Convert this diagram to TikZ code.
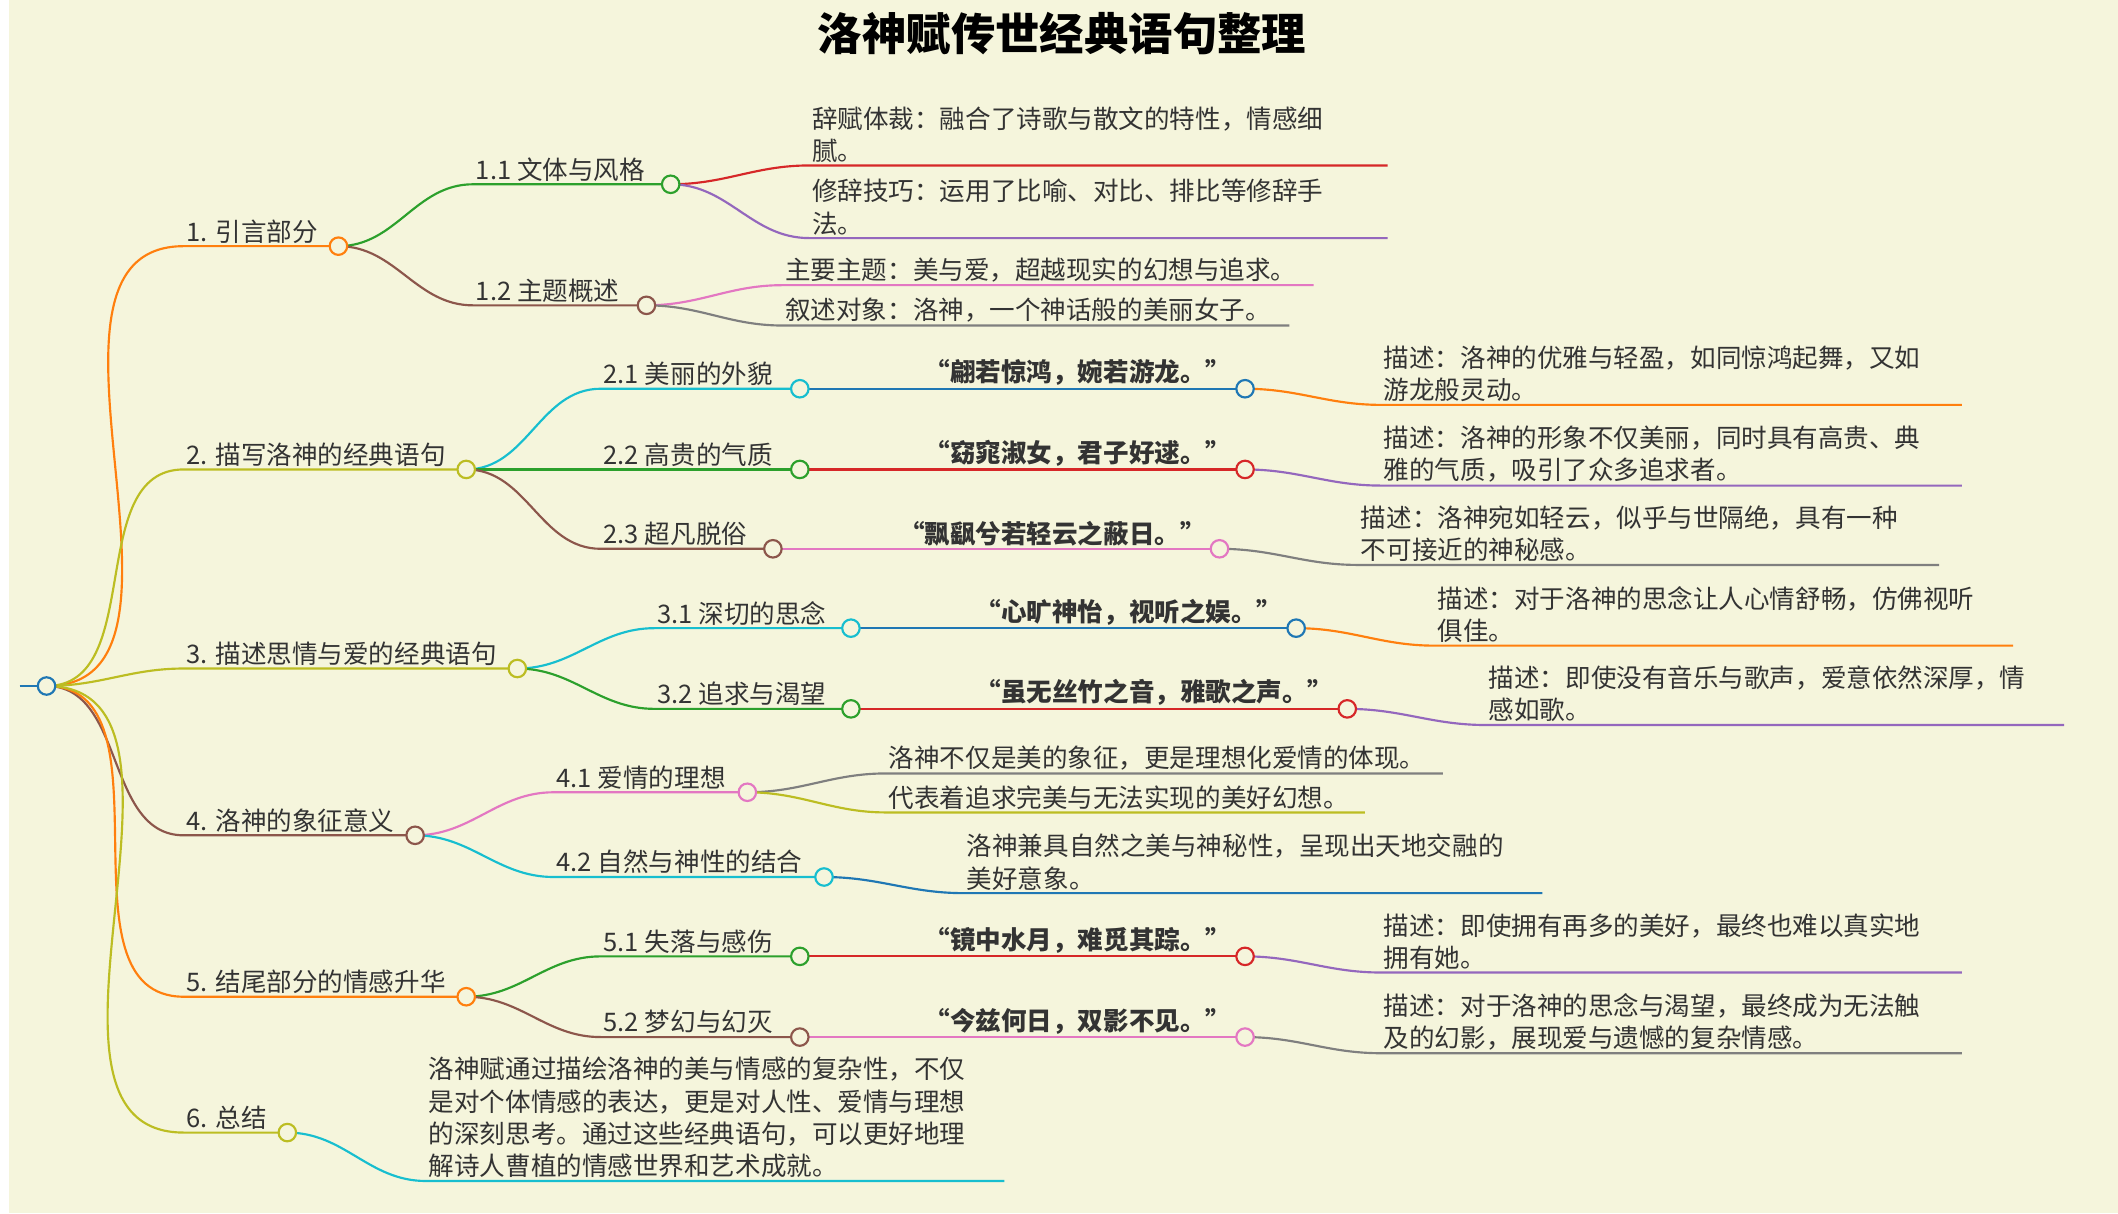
\documentclass[tikz,border=0pt]{standalone}
\usepackage{fontspec}
\setmainfont{Noto Sans CJK SC}
\usetikzlibrary{positioning}
\definecolor{bg}{HTML}{F5F5DC}
\definecolor{txt}{HTML}{333333}
\definecolor{tOrange}{HTML}{FF7F0E}
\definecolor{tGreen}{HTML}{2CA02C}
\definecolor{tRed}{HTML}{D62728}
\definecolor{tPurple}{HTML}{9467BD}
\definecolor{tBrown}{HTML}{8C564B}
\definecolor{tPink}{HTML}{E377C2}
\definecolor{tGray}{HTML}{7F7F7F}
\definecolor{tOlive}{HTML}{BCBD22}
\definecolor{tCyan}{HTML}{17BECF}
\definecolor{tBlue}{HTML}{1F77B4}
\begin{document}
\begin{tikzpicture}[x=1pt, y=-1pt,
        lbl/.style={anchor=south west, inner sep=2pt, align=left, text=txt, font=\fontsize{19}{24}\selectfont},
        quote/.style={anchor=south east, inner sep=2pt, text=txt, font=\fontsize{19}{24}\selectfont\bfseries},
        dot/.style={circle, draw=#1, fill=bg, line width=1.6pt, minimum size=13pt, inner sep=0pt},
        link/.style={draw=#1, line width=1.6pt},
        ]

        \fill[bg] (0,0) rectangle (1568,902);
        \node[font=\fontsize{33}{40}\selectfont\bfseries] (title) at (783,25) {洛神赋传世经典语句整理};

        % 根
        \coordinate (r0) at (8,510);
        \coordinate (r) at (28,510);
        \draw[link=tBlue] (r0) -- (r);

        % 一级
        \coordinate (s1) at (130,183); \coordinate (c1) at (245,183);
        \coordinate (s2) at (130,349); \coordinate (c2) at (340,349);
        \coordinate (s3) at (130,497); \coordinate (c3) at (378,497);
        \coordinate (s4) at (130,621); \coordinate (c4) at (302,621);
        \coordinate (s5) at (130,741); \coordinate (c5) at (340,741);
        \coordinate (s6) at (130,842); \coordinate (c6) at (207,842);
        \draw[link=tOrange] (r) to[out=0, in=180] (s1) -- (c1);
        \draw[link=tOlive] (r) to[out=0, in=180] (s2) -- (c2);
        \draw[link=tOlive] (r) to[out=0, in=180] (s3) -- (c3);
        \draw[link=tBrown] (r) to[out=0, in=180] (s4) -- (c4);
        \draw[link=tOrange] (r) to[out=0, in=180] (s5) -- (c5);
        \draw[link=tOlive] (r) to[out=0, in=180] (s6) -- (c6);
        \node[lbl] (n1) at (s1) {1. 引言部分};
        \node[lbl] (n2) at (s2) {2. 描写洛神的经典语句};
        \node[lbl] (n3) at (s3) {3. 描述思情与爱的经典语句};
        \node[lbl] (n4) at (s4) {4. 洛神的象征意义};
        \node[lbl] (n5) at (s5) {5. 结尾部分的情感升华};
        \node[lbl] (n6) at (s6) {6. 总结};

        % 1
        \coordinate (s11) at (345,137); \coordinate (c11) at (492,137);
        \coordinate (s12) at (345,227); \coordinate (c12) at (474,227);
        \draw[link=tGreen] (c1) to[out=0, in=180] (s11) -- (c11);
        \draw[link=tBrown] (c1) to[out=0, in=180] (s12) -- (c12);
        \node[lbl] (n11) at (s11) {1.1 文体与风格};
        \node[lbl] (n12) at (s12) {1.2 主题概述};
        \coordinate (s111) at (595,123); \coordinate (e111) at (1025,123);
        \coordinate (s112) at (595,177); \coordinate (e112) at (1025,177);
        \coordinate (s121) at (575,212); \coordinate (e121) at (970,212);
        \coordinate (s122) at (575,242); \coordinate (e122) at (952,242);
        \draw[link=tRed] (c11) to[out=0, in=180] (s111) -- (e111);
        \draw[link=tPurple] (c11) to[out=0, in=180] (s112) -- (e112);
        \draw[link=tPink] (c12) to[out=0, in=180] (s121) -- (e121);
        \draw[link=tGray] (c12) to[out=0, in=180] (s122) -- (e122);
        \node[lbl] (n111) at (s111) {辞赋体裁：融合了诗歌与散文的特性，情感细\\腻。};
        \node[lbl] (n112) at (s112) {修辞技巧：运用了比喻、对比、排比等修辞手\\法。};
        \node[lbl] (n121) at (s121) {主要主题：美与爱，超越现实的幻想与追求。};
        \node[lbl] (n122) at (s122) {叙述对象：洛神，一个神话般的美丽女子。};

        % 2
        \coordinate (s21) at (440,289); \coordinate (c21) at (588,289); \coordinate (q21) at (919,289);
        \coordinate (s22) at (440,349); \coordinate (c22) at (588,349); \coordinate (q22) at (919,349);
        \coordinate (s23) at (440,408); \coordinate (c23) at (568,408); \coordinate (q23) at (900,408);
        \draw[link=tCyan] (c2) to[out=0, in=180] (s21) -- (c21);
        \draw[link=tGreen] (c2) to[out=0, in=180] (s22) -- (c22);
        \draw[link=tBrown] (c2) to[out=0, in=180] (s23) -- (c23);
        \draw[link=tBlue] (c21) -- (q21);
        \draw[link=tRed] (c22) -- (q22);
        \draw[link=tPink] (c23) -- (q23);
        \node[lbl] (n21) at (s21) {2.1 美丽的外貌};
        \node[lbl] (n22) at (s22) {2.2 高贵的气质};
        \node[lbl] (n23) at (s23) {2.3 超凡脱俗};
        \node[quote] (m21) at ([xshift=-8pt]q21) {“翩若惊鸿，婉若游龙。”};
        \node[quote] (m22) at ([xshift=-8pt]q22) {“窈窕淑女，君子好逑。”};
        \node[quote] (m23) at ([xshift=-8pt]q23) {“飘飖兮若轻云之蔽日。”};
        \coordinate (s211) at (1020,301); \coordinate (e211) at (1452,301);
        \coordinate (s221) at (1020,361); \coordinate (e221) at (1452,361);
        \coordinate (s231) at (1003,420); \coordinate (e231) at (1435,420);
        \draw[link=tOrange] (q21) to[out=0, in=180] (s211) -- (e211);
        \draw[link=tPurple] (q22) to[out=0, in=180] (s221) -- (e221);
        \draw[link=tGray] (q23) to[out=0, in=180] (s231) -- (e231);
        \node[lbl] (n211) at (s211) {描述：洛神的优雅与轻盈，如同惊鸿起舞，又如\\游龙般灵动。};
        \node[lbl] (n221) at (s221) {描述：洛神的形象不仅美丽，同时具有高贵、典\\雅的气质，吸引了众多追求者。};
        \node[lbl] (n231) at (s231) {描述：洛神宛如轻云，似乎与世隔绝，具有一种\\不可接近的神秘感。};

        % 3
        \coordinate (s31) at (480,467); \coordinate (c31) at (626,467); \coordinate (q31) at (957,467);
        \coordinate (s32) at (480,527); \coordinate (c32) at (626,527); \coordinate (q32) at (995,527);
        \draw[link=tCyan] (c3) to[out=0, in=180] (s31) -- (c31);
        \draw[link=tGreen] (c3) to[out=0, in=180] (s32) -- (c32);
        \draw[link=tBlue] (c31) -- (q31);
        \draw[link=tRed] (c32) -- (q32);
        \node[lbl] (n31) at (s31) {3.1 深切的思念};
        \node[lbl] (n32) at (s32) {3.2 追求与渴望};
        \node[quote] (m31) at ([xshift=-8pt]q31) {“心旷神怡，视听之娱。”};
        \node[quote] (m32) at ([xshift=-8pt]q32) {“虽无丝竹之音，雅歌之声。”};
        \coordinate (s311) at (1060,480); \coordinate (e311) at (1490,480);
        \coordinate (s321) at (1098,539); \coordinate (e321) at (1528,539);
        \draw[link=tOrange] (q31) to[out=0, in=180] (s311) -- (e311);
        \draw[link=tPurple] (q32) to[out=0, in=180] (s321) -- (e321);
        \node[lbl] (n311) at (s311) {描述：对于洛神的思念让人心情舒畅，仿佛视听\\俱佳。};
        \node[lbl] (n321) at (s321) {描述：即使没有音乐与歌声，爱意依然深厚，情\\感如歌。};

        % 4
        \coordinate (s41) at (405,589); \coordinate (c41) at (549,589);
        \coordinate (s42) at (405,652); \coordinate (c42) at (606,652);
        \draw[link=tPink] (c4) to[out=0, in=180] (s41) -- (c41);
        \draw[link=tCyan] (c4) to[out=0, in=180] (s42) -- (c42);
        \node[lbl] (n41) at (s41) {4.1 爱情的理想};
        \node[lbl] (n42) at (s42) {4.2 自然与神性的结合};
        \coordinate (s411) at (652,575); \coordinate (e411) at (1066,575);
        \coordinate (s412) at (652,604); \coordinate (e412) at (1008,604);
        \coordinate (s421) at (710,664); \coordinate (e421) at (1140,664);
        \draw[link=tGray] (c41) to[out=0, in=180] (s411) -- (e411);
        \draw[link=tOlive] (c41) to[out=0, in=180] (s412) -- (e412);
        \draw[link=tBlue] (c42) to[out=0, in=180] (s421) -- (e421);
        \node[lbl] (n411) at (s411) {洛神不仅是美的象征，更是理想化爱情的体现。};
        \node[lbl] (n412) at (s412) {代表着追求完美与无法实现的美好幻想。};
        \node[lbl] (n421) at (s421) {洛神兼具自然之美与神秘性，呈现出天地交融的\\美好意象。};

        % 5
        \coordinate (s51) at (440,711); \coordinate (c51) at (588,711); \coordinate (q51) at (919,711);
        \coordinate (s52) at (440,771); \coordinate (c52) at (588,771); \coordinate (q52) at (919,771);
        \draw[link=tGreen] (c5) to[out=0, in=180] (s51) -- (c51);
        \draw[link=tBrown] (c5) to[out=0, in=180] (s52) -- (c52);
        \draw[link=tRed] (c51) -- (q51);
        \draw[link=tPink] (c52) -- (q52);
        \node[lbl] (n51) at (s51) {5.1 失落与感伤};
        \node[lbl] (n52) at (s52) {5.2 梦幻与幻灭};
        \node[quote] (m51) at ([xshift=-8pt]q51) {“镜中水月，难觅其踪。”};
        \node[quote] (m52) at ([xshift=-8pt]q52) {“今兹何日，双影不见。”};
        \coordinate (s511) at (1020,723); \coordinate (e511) at (1452,723);
        \coordinate (s521) at (1020,783); \coordinate (e521) at (1452,783);
        \draw[link=tPurple] (q51) to[out=0, in=180] (s511) -- (e511);
        \draw[link=tGray] (q52) to[out=0, in=180] (s521) -- (e521);
        \node[lbl] (n511) at (s511) {描述：即使拥有再多的美好，最终也难以真实地\\拥有她。};
        \node[lbl] (n521) at (s521) {描述：对于洛神的思念与渴望，最终成为无法触\\及的幻影，展现爱与遗憾的复杂情感。};

        % 6
        \coordinate (s61) at (310,878); \coordinate (e61) at (740,878);
        \draw[link=tCyan] (c6) to[out=0, in=180] (s61) -- (e61);
        \node[lbl] (n61) at (s61) {洛神赋通过描绘洛神的美与情感的复杂性，不仅\\是对个体情感的表达，更是对人性、爱情与理想\\的深刻思考。通过这些经典语句，可以更好地理\\解诗人曹植的情感世界和艺术成就。};

        % 圆点
        \node[dot=tBlue] at (r) {};
        \node[dot=tOrange] at (c1) {};
        \node[dot=tOlive] at (c2) {};
        \node[dot=tOlive] at (c3) {};
        \node[dot=tBrown] at (c4) {};
        \node[dot=tOrange] at (c5) {};
        \node[dot=tOlive] at (c6) {};
        \node[dot=tGreen] at (c11) {};
        \node[dot=tBrown] at (c12) {};
        \node[dot=tCyan] at (c21) {};
        \node[dot=tGreen] at (c22) {};
        \node[dot=tBrown] at (c23) {};
        \node[dot=tBlue] at (q21) {};
        \node[dot=tRed] at (q22) {};
        \node[dot=tPink] at (q23) {};
        \node[dot=tCyan] at (c31) {};
        \node[dot=tGreen] at (c32) {};
        \node[dot=tBlue] at (q31) {};
        \node[dot=tRed] at (q32) {};
        \node[dot=tPink] at (c41) {};
        \node[dot=tCyan] at (c42) {};
        \node[dot=tGreen] at (c51) {};
        \node[dot=tBrown] at (c52) {};
        \node[dot=tRed] at (q51) {};
        \node[dot=tPink] at (q52) {};

\end{tikzpicture}
\end{document}
